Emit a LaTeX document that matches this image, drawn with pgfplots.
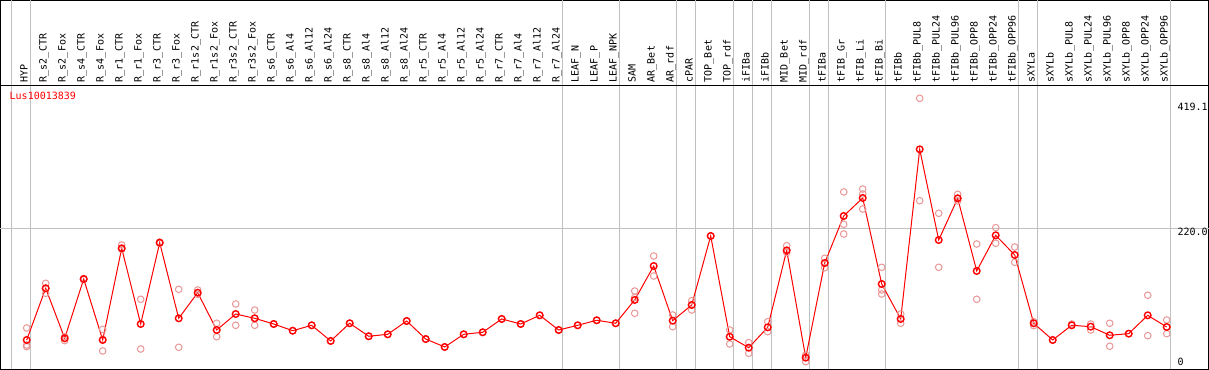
\documentclass[border=0pt]{standalone}
\usepackage{pgfplots}
\pgfplotsset{compat=1.18}
\usepackage{fontspec}
\setmainfont{DejaVu Sans Mono}
\definecolor{faint}{RGB}{232,150,150}
\definecolor{sep}{RGB}{192,192,192}
\begin{document}
\begin{tikzpicture}
\begin{axis}[
  scale only axis, width=1208bp, height=369bp,
  xmin=-1.379, xmax=62.2, ymin=3.83, ymax=568.9,
  axis line style={line width=1bp, black},
  font=\fontsize{10bp}{12bp}\selectfont,
  xtick={0,...,60},
  xticklabels={HYP,R\_s2\_CTR,R\_s2\_Fox,R\_s4\_CTR,R\_s4\_Fox,R\_r1\_CTR,R\_r1\_Fox,R\_r3\_CTR,R\_r3\_Fox,R\_r1s2\_CTR,R\_r1s2\_Fox,R\_r3s2\_CTR,R\_r3s2\_Fox,R\_s6\_CTR,R\_s6\_Al4,R\_s6\_Al12,R\_s6\_Al24,R\_s8\_CTR,R\_s8\_Al4,R\_s8\_Al12,R\_s8\_Al24,R\_r5\_CTR,R\_r5\_Al4,R\_r5\_Al12,R\_r5\_Al24,R\_r7\_CTR,R\_r7\_Al4,R\_r7\_Al12,R\_r7\_Al24,LEAF\_N,LEAF\_P,LEAF\_NPK,SAM,AR\_Bet,AR\_rdf,cPAR,TOP\_Bet,TOP\_rdf,iFIBa,iFIBb,MID\_Bet,MID\_rdf,tFIBa,tFIB\_Gr,tFIB\_Li,tFIB\_Bi,tFIBb,tFIBb\_PUL8,tFIBb\_PUL24,tFIBb\_PUL96,tFIBb\_OPP8,tFIBb\_OPP24,tFIBb\_OPP96,sXYLa,sXYLb,sXYLb\_PUL8,sXYLb\_PUL24,sXYLb\_PUL96,sXYLb\_OPP8,sXYLb\_OPP24,sXYLb\_OPP96},
  xticklabel style={inner sep=0pt, yshift=287.2bp, xshift=1bp, rotate=90, anchor=base west, font=\fontsize{10bp}{12bp}\selectfont},
  major tick length=0pt,
  ytick=\empty,
  extra x ticks={-0.789,0.2105,28.2105,31.2105,34.2105,35.2105,37.2105,38.2105,39.2105,41.2105,42.2105,45.2105,52.2105,53.2105,60.2105},
  extra x tick labels={},
  extra x tick style={grid=major, major grid style={sep, line width=1bp}, major tick length=0pt},
  clip=false,
]
\draw[sep, line width=1bp] (axis cs:-1.379,220) -- (axis cs:62.2,220);
\draw[black, line width=1bp] (rel axis cs:0,0.7691) -- (rel axis cs:1,0.7691);
% replicate values
\addplot[only marks, mark=o, mark size=3.3bp, mark options={faint, line width=1bp}] coordinates {
(0,67.4)(0,41.3)(0,38.8)
(1,135.8)(1,120.5)(1,128.2)
(2,54)(2,48)
(3,143)(3,141.5)
(4,65.3)(4,32.2)(4,50)
(5,194.5)(5,187.9)
(6,111.3)(6,35.2)
(7,199)(7,197)
(8,126.6)(8,37.8)
(9,125.6)(9,119)
(10,74.6)(10,54)
(11,104.1)(11,71.5)
(12,94.9)(12,71.5)(12,82.2)
(13,73.5)(14,63.2)(15,71.5)(16,47.5)(17,74.6)(18,54.7)(19,57.7)(20,78.1)(21,50.5)(22,38.3)(23,57.7)(24,60.8)(25,81.2)(26,73.5)(27,86.8)(28,64.3)(29,71.5)(30,79.2)(31,74.6)
(32,124)(32,89.9)(32,114)
(33,177.6)(33,147)
(34,87.3)(34,69.4)
(35,109.2)(35,94.9)
(36,208.3)
(37,64.3)(37,42.9)
(38,44.9)(38,28.6)
(39,77)(39,61.7)
(40,193.4)(40,183)
(41,26)(41,15.8)
(42,174.1)(42,159.7)
(43,275.7)(43,226.2)(43,211.3)
(44,280.2)(44,272.6)(44,249.6)
(45,160.3)(45,125.6)(45,119.4)
(46,88.8)(46,74.6)
(47,419.1)(47,262.3)
(48,243)(48,160.3)
(49,272.1)(49,261.9)
(50,196)(50,111.3)
(51,221)(51,197.1)
(52,191.4)(52,168)
(53,77)(53,71)
(54,49)
(55,73.5)
(56,73.5)(56,64.3)
(57,74.6)(57,39.4)
(58,58.7)
(59,117.5)(59,55.6)
(60,79.6)(60,58.7)
};
% mean values
\addplot[red, line width=1bp, mark=o, mark size=3.3bp, mark options={red, line width=1.4bp}] coordinates {
(0,49)(1,128.2)(2,51.6)(3,142.4)(4,49)(5,189.4)(6,73.5)(7,198)(8,82.2)(9,121.4)
(10,64.3)(11,88.8)(12,82.2)(13,73.5)(14,63.2)(15,71.5)(16,47.5)(17,74.6)(18,54.7)(19,57.7)
(20,78.1)(21,50.5)(22,38.3)(23,57.7)(24,60.8)(25,81.2)(26,73.5)(27,86.8)(28,64.3)(29,71.5)
(30,79.2)(31,74.6)(32,110.3)(33,162.3)(34,78.6)(35,102.6)(36,208.3)(37,54)(38,37.2)(39,68.4)
(40,186.3)(41,21.9)(42,166.9)(43,238.9)(44,266.5)(45,134.8)(46,81.2)(47,341)(48,202.1)(49,266)
(50,154.7)(51,209.3)(52,179.2)(53,74.6)(54,49)(55,71.5)(56,69.4)(57,56.2)(58,58.7)(59,86.8)
(60,68.9)
};
\node[red, anchor=base west, inner sep=0pt] at (rel axis cs:0.00745,0.7304) {Lus10013839};
\node[anchor=north west, inner sep=0pt] at (rel axis cs:0.9743,0.7214) {419.1};
\node[anchor=north west, inner sep=0pt] at (rel axis cs:0.9743,0.3827) {220.0};
\node[anchor=north west, inner sep=0pt] at (rel axis cs:0.9743,0.0304) {0};
\end{axis}
\end{tikzpicture}
\end{document}
